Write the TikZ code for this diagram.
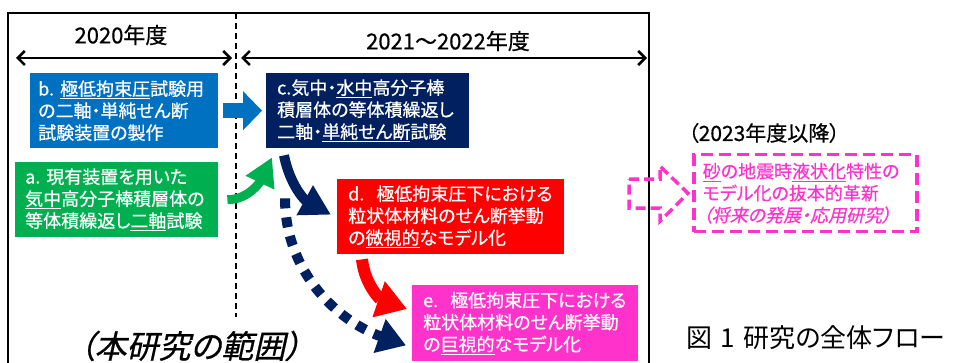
\documentclass[tikz,border=0pt]{standalone}
\usepackage{fontspec}
\setmainfont{Noto Sans CJK JP}[RawFeature=+palt,FakeBold=0.6]
\newfontfamily\jpit{Noto Sans CJK JP}[FakeSlant=0.22,RawFeature=+palt,FakeBold=0.6]
\newfontfamily\jpplain{Noto Sans CJK JP}[RawFeature=+palt]
\usetikzlibrary{arrows.meta,calc}
\definecolor{cblue}{HTML}{0070C0}
\definecolor{cnavy}{HTML}{002060}
\definecolor{cgreen}{HTML}{00B050}
\definecolor{cred}{HTML}{FF0000}
\definecolor{cpink}{HTML}{FF33CC}
\tikzset{
  box/.style={anchor=north west, text=white, align=left, inner ysep=0pt,
    font=\fontsize{18}{22}\selectfont},
  yearlbl/.style={font=\fontsize{22}{24}\selectfont, inner sep=0pt},
  span/.style={line width=2.5pt, {Straight Barb[length=7pt,width=14pt]}-{Straight Barb[length=7pt,width=14pt]}},
}
\begin{document}
\begin{tikzpicture}[x=1pt,y=-1pt]
\useasboundingbox (0,0) rectangle (958,363);
% frame
\draw[line width=2.5pt] (8,363) -- (8,13) -- (649,13) -- (649,363);
\draw[line width=1.3pt, dash pattern=on 6pt off 4pt] (236,13) -- (236,317);
% year labels
\node[yearlbl] (y1) at (121,35) {2020年度};
\node[yearlbl] (y2) at (448,41) {2021～2022年度};
\coordinate (s1) at (16,58);
\coordinate (e1) at (232,58);
\coordinate (s2) at (241,58);
\coordinate (e2) at (647,58);
\draw[span] (s1) -- (e1);
\draw[span] (s2) -- (e2);
% boxes
\node[box, fill=cblue, minimum height=75pt, inner xsep=8pt, text width=172pt] (b) at (30,73)
 {b.~\underline{極低拘束圧}試験用\\の二軸・単純せん断\\試験装置の製作};
\node[box, fill=cnavy, minimum height=75pt, inner xsep=11pt, text width=181pt] (c) at (266,73)
 {c.気中・\underline{水中}高分子棒\\積層体の等体積繰返し\\二軸・\underline{単純せん断}試験};
\node[box, fill=cgreen, minimum height=75pt, inner xsep=10pt, text width=183pt] (a) at (15,162)
 {a.~現有装置を用いた\\\underline{気中}高分子棒積層体の\\等体積繰返し\underline{二軸}試験};
\node[box, fill=cred, minimum height=75pt, inner xsep=11pt, text width=205pt] (d) at (337,179)
 {d.~~極低拘束圧下における\\粒状体材料のせん断挙動\\の\underline{微視的}なモデル化};
\node[box, fill=cpink, minimum height=76pt, inner xsep=11pt, text width=204pt] (e) at (412,285)
 {e.~~極低拘束圧下における\\粒状体材料のせん断挙動\\の\underline{巨視的}なモデル化};
% future
\node[font=\fontsize{21}{23}\selectfont, inner sep=0pt, anchor=west] (fy) at (688,133) {（2023年度以降）};
\node[box, text=cpink, draw=cpink, line width=3.5pt, dash pattern=on 12pt off 6pt,
  minimum height=77pt, inner xsep=9pt, text width=205pt] (f) at (692,153)
 {\underline{砂}の地震時\underline{液状化}特性の\\モデル化の抜本的革新\\{\jpit （将来の発展・応用研究）}};
\draw[cpink, line width=3.5pt, dash pattern=on 10pt off 5pt, line join=miter]
  ($(f.west)+(-63,-14)$) -- ++(31,0) -- ++(0,-13) -- ($(f.west)+(-4,0)$)
  -- ($(f.west)+(-32,28)$) -- ++(0,-13) -- ++(-31,0) -- cycle;
% flow arrows
\draw[cblue, line width=15pt, -{Triangle[length=19pt,width=38pt]}]
  ($(b.east)+(5,0)$) -- ($(c.west)+(-4,0)$);
\draw[cgreen, line width=9pt, -{Triangle[length=28pt,width=30pt]}]
  ($(a.east)+(9,0)$) .. controls ($(a.east)+(32,0)$) and ($(c.south west)+(-4,30)$) .. ($(c.south west)+(6,9)$);
\draw[cnavy, line width=10pt, -{Triangle[length=30pt,width=32pt]}]
  ($(c.south west)+(18,7)$) .. controls ($(c.south west)+(24,37)$) and ($(c.south west)+(39,52)$) .. ($(d.west)+(-6,-2)$);
\draw[cnavy, line width=10pt, dash pattern=on 10pt off 9pt, -{Triangle[length=28pt,width=34pt]}]
  ($(c.south west)+(19,50)$) .. controls ($(c.south west)+(19,122)$) and ($(c.south west)+(70,172)$) .. ($(e.south west)+(-6,-16)$);
\draw[cred, line width=12pt, -{Triangle[length=30pt,width=36pt]}]
  ($(d.south west)+(25,5)$) .. controls ($(d.south west)+(28,32)$) and ($(d.south west)+(45,46)$) .. ($(e.north west)+(-5,24)$);
% scope label and caption
\node[font=\jpit\fontsize{32}{34}\selectfont, inner sep=0pt] (scope) at (190,346) {（本研究の範囲）};
\node[font=\jpplain\fontsize{26}{28}\selectfont, inner sep=0pt, anchor=west] (cap) at (686,338)
 {図\hspace{8pt}1\hspace{9pt}研究の全体フロー};
\end{tikzpicture}
\end{document}
